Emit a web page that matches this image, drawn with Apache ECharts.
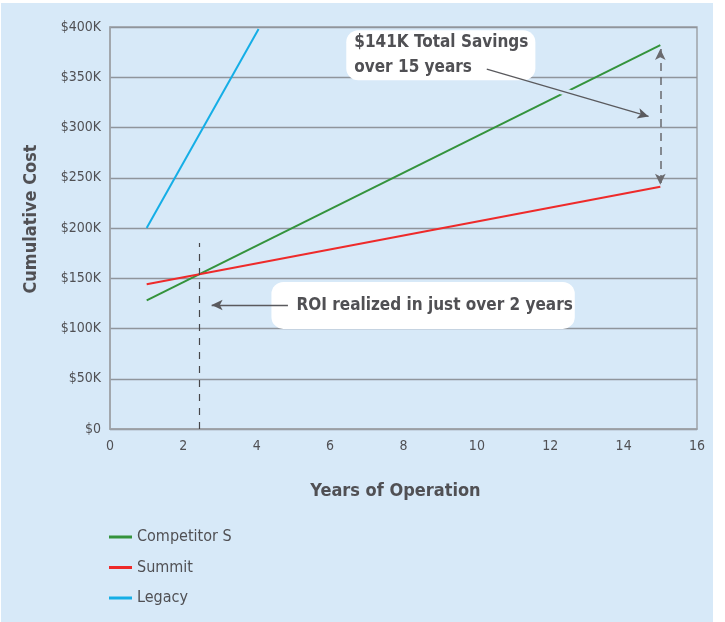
<!DOCTYPE html>
<html>
<head>
<meta charset="utf-8">
<script src="https://cdn.jsdelivr.net/npm/echarts@6/dist/echarts.min.js"></script>
<style>
  html, body { margin: 0; padding: 0; background: #fff; }
  .panel { position: absolute; left: 1px; top: 3px; width: 712px; height: 619px; background: #d7e9f8; }
  #chart { position: absolute; left: 0; top: 0; width: 725px; height: 622px; }
</style>
</head>
<body>
<div class="panel"></div>
<div id="chart"></div>
<script>
// years of operation / cumulative cost ($)
const competitorS = [[1, 128000], [15, 382000]]
const summit = [[1, 144000], [15, 241000]]
const legacy = [[1, 200000], [4.05, 398000]]

const yTicks = [0, 50000, 100000, 150000, 200000, 250000, 300000, 350000, 400000]
const xTicks = [0, 2, 4, 6, 8, 10, 12, 14, 16]

const roiYear = 2.44
const FONT = '"DejaVu Sans Condensed", "Liberation Sans Narrow", Roboto, sans-serif'
const TEXT = '#505054'
const BG = '#d7e9f8'

const chart = echarts.init(document.getElementById('chart'))

const option = {
  backgroundColor: 'transparent',
  animation: false,
  textStyle: { fontFamily: FONT },
  grid: {
    left: 110,
    right: 28,
    top: 27,
    bottom: 193,
    show: true,
    borderColor: '#9ea3a8',
    borderWidth: 1.5,
    backgroundColor: 'transparent'
  },
  legend: {
    orient: 'vertical',
    left: 104,
    top: 524,
    icon: 'rect',
    itemWidth: 23,
    itemHeight: 3,
    itemGap: 14.5,
    data: ['Competitor S', 'Summit', 'Legacy'],
    textStyle: { color: TEXT, fontSize: 16, fontFamily: FONT }
  },
  xAxis: {
    type: 'value',
    min: xTicks[0],
    max: xTicks[xTicks.length - 1],
    interval: 2,
    name: 'Years of Operation',
    nameLocation: 'middle',
    nameGap: 53,
    nameTextStyle: { color: TEXT, fontSize: 18, fontWeight: 'bold', fontFamily: FONT, padding: [0, 16, 0, 0] },
    axisLine: { show: true, lineStyle: { color: '#9ea3a8', width: 1.5 } },
    axisTick: { show: false },
    axisLabel: { color: TEXT, fontSize: 14, margin: 10, fontFamily: FONT },
    splitLine: { show: false }
  },
  yAxis: {
    type: 'value',
    min: yTicks[0],
    max: yTicks[yTicks.length - 1],
    interval: 50000,
    name: 'Cumulative Cost',
    nameLocation: 'middle',
    nameRotate: 90,
    nameGap: 70,
    nameTextStyle: { color: TEXT, fontSize: 18, fontWeight: 'bold', fontFamily: FONT, padding: [0, 0, 0, 18] },
    axisLine: { show: true, lineStyle: { color: '#9ea3a8', width: 1.5 } },
    axisTick: { show: false },
    axisLabel: {
      color: TEXT,
      fontSize: 14,
      margin: 9,
      fontFamily: FONT,
      formatter: v => v === 0 ? '$0' : '$' + (v / 1000) + 'K'
    },
    splitLine: { lineStyle: { color: '#8f959c', width: 1.3 } }
  },
  series: [
    {
      name: 'Competitor S',
      type: 'line',
      data: competitorS,
      symbol: 'none',
      lineStyle: { color: '#34933c', width: 2 },
      itemStyle: { color: '#34933c' },
      z: 2
    },
    {
      name: 'Summit',
      type: 'line',
      data: summit,
      symbol: 'none',
      lineStyle: { color: '#ee2a2a', width: 2 },
      itemStyle: { color: '#ee2a2a' },
      z: 2
    },
    {
      name: 'Legacy',
      type: 'line',
      data: legacy,
      symbol: 'none',
      lineStyle: { color: '#15aee6', width: 2 },
      itemStyle: { color: '#15aee6' },
      z: 2
    },
    {
      // annotation boxes
      type: 'line',
      data: [],
      markPoint: {
        z: 3,
        symbol: 'rect',
        symbolSize: 0,
        silent: true,
        data: [
          {
            coord: [4.4, 123000],
            label: {
              show: true,
              position: 'inside',
              align: 'left',
              formatter: 'ROI realized in just over 2 years',
              backgroundColor: '#fff',
              borderRadius: 12,
              padding: [15, 2, 15, 25],
              color: TEXT,
              fontSize: 17,
              fontWeight: 'bold',
              fontFamily: FONT
            }
          },
          {
            coord: [6.44, 372000],
            label: {
              show: true,
              position: 'inside',
              align: 'left',
              formatter: '$141K Total Savings\nover 15 years',
              backgroundColor: '#fff',
              borderRadius: 12,
              padding: [0, 7, 0, 8],
              lineHeight: 25,
              color: TEXT,
              fontSize: 17,
              fontWeight: 'bold',
              fontFamily: FONT
            }
          }
        ]
      }
    },
    {
      // halo where the savings arrow crosses the green line
      type: 'line',
      data: [],
      markLine: {
        z: 4,
        silent: true,
        symbol: ['none', 'none'],
        label: { show: false },
        lineStyle: { color: BG, width: 7, type: 'solid' },
        data: [[{ coord: [11.8, 342000] }, { coord: [13.0, 329000] }]]
      }
    },
    {
      // arrows and dashed guides
      type: 'line',
      data: [],
      markLine: {
        z: 6,
        silent: true,
        label: { show: false },
        symbolSize: [8, 11],
        data: [
          [
            { coord: [roiYear, 0], symbol: 'none', lineStyle: { color: '#46464a', width: 1.2, type: [7, 7] } },
            { coord: [roiYear, 185000], symbol: 'none' }
          ],
          [
            { coord: [4.85, 123400], symbol: 'none', lineStyle: { color: '#5a5a5e', width: 1.3, type: 'solid' } },
            { coord: [2.77, 123400], symbol: 'arrow' }
          ],
          [
            { coord: [10.27, 358000], symbol: 'none', lineStyle: { color: '#5a5a5e', width: 1.3, type: 'solid' } },
            { coord: [14.68, 311000], symbol: 'arrow' }
          ],
          [
            { coord: [15, 378000], symbol: 'arrow', lineStyle: { color: '#6a6a6e', width: 1.5, type: [8, 6] } },
            { coord: [15, 243000], symbol: 'arrow' }
          ]
        ]
      }
    }
  ]
}

chart.setOption(option)
</script>
</body>
</html>
